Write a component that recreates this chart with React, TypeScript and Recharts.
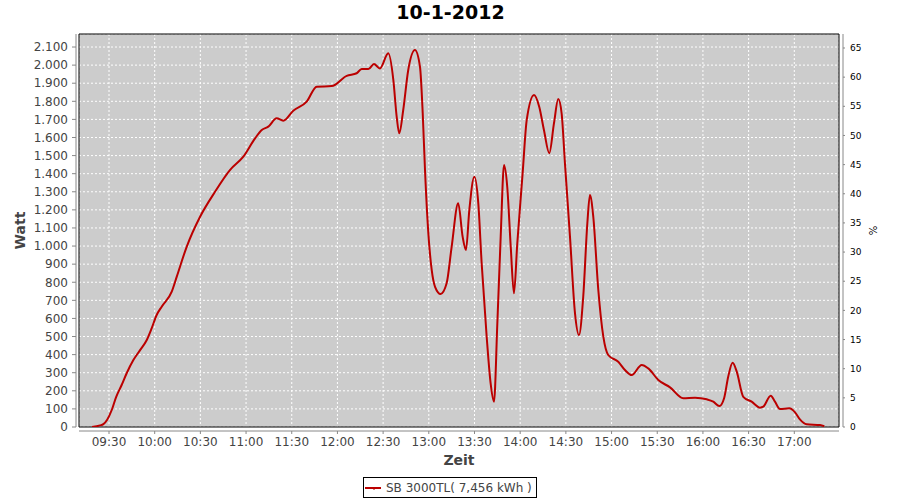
import React from 'react';
import {
  LineChart,
  Line,
  XAxis,
  YAxis,
  CartesianGrid,
  Legend,
  ReferenceArea,
  Label,
} from 'recharts';

// Time of each reading, in minutes since midnight
const times = [
  558.8, 564.1, 566.3, 568.9, 571.8, 574.6, 578.3, 581.6, 586.0, 590.4,
  594.8, 598.0, 601.3, 604.6, 611.2, 614.5, 621.0, 629.8, 639.6, 649.4,
  658.2, 665.9, 670.3, 674.6, 680.1, 684.4, 691.0, 699.8, 706.4, 716.2,
  726.1, 732.6, 735.9, 740.3, 744.0, 747.9, 753.4, 756.7, 758.9, 760.6,
  763.2, 766.5, 770.9, 774.2, 776.0, 777.5, 779.7, 781.9, 784.1, 787.8,
  791.7, 795.0, 799.3, 802.2, 804.4, 806.6, 809.9, 812.5, 814.7, 818.0,
  820.6, 822.8, 825.0, 827.2, 829.4, 831.5, 833.8, 835.9, 838.1, 841.6,
  844.3, 849.1, 852.5, 855.6, 859.1, 862.2, 865.0, 867.2, 869.4, 872.7,
  876.0, 878.6, 881.4, 884.1, 885.8, 888.0, 891.3, 894.6, 897.8, 904.4,
  908.8, 913.2, 919.8, 924.1, 930.7, 938.4, 947.1, 954.8, 962.5, 966.8,
  970.8, 973.9, 976.6, 979.5, 982.2, 986.5, 992.0, 997.5, 999.6, 1004.5,
  1007.3, 1010.6, 1016.7, 1020.5, 1023.7, 1028.1, 1036.9, 1039.7,
];

// SB 3000TL power output in Watt
const watts = [
  0, 9, 16, 42, 94, 164, 232, 297, 370, 425,
  481, 545, 619, 665, 748, 831, 996, 1162, 1300, 1420,
  1494, 1595, 1641, 1660, 1706, 1693, 1748, 1798, 1881, 1884,
  1941, 1955, 1978, 1978, 2006, 1982, 2065, 1918, 1715, 1623,
  1752, 1973, 2083, 1991, 1734, 1420, 1070, 868, 775, 735,
  794, 996, 1236, 1052, 978, 1199, 1383, 1236, 905, 499,
  241, 140, 573, 1052, 1448, 1328, 996, 739, 1015, 1402,
  1697, 1835, 1770, 1641, 1513, 1679, 1813, 1734, 1457, 1052,
  628, 508, 720, 1126, 1282, 1162, 757, 499, 398, 361,
  315, 287, 343, 324, 260, 219, 159, 162, 153, 140,
  116, 159, 278, 355, 306, 167, 140, 107, 112, 173,
  140, 99, 103, 81, 42, 15, 11, 4,
];

const xTicks = [570, 600, 630, 660, 690, 720, 750, 780, 810, 840, 870, 900, 930, 960, 990, 1020];
const wattTicks = [
  0, 100, 200, 300, 400, 500, 600, 700, 800, 900, 1000,
  1100, 1200, 1300, 1400, 1500, 1600, 1700, 1800, 1900, 2000, 2100,
];
const pctTicks = [0, 5, 10, 15, 20, 25, 30, 35, 40, 45, 50, 55, 60, 65];

const title = '10-1-2012';
const seriesName = 'SB 3000TL( 7,456 kWh )';
const xTitle = 'Zeit';
const yLeftTitle = 'Watt';
const yRightTitle = '%';

const X_DOMAIN: [number, number] = [550.3, 1049.35];
const W_DOMAIN: [number, number] = [0, 2172];
const P_DOMAIN: [number, number] = [0, 67.4];

const data = times.map((t, i) => ({ t, w: watts[i] }));

const FONT = '"DejaVu Sans", Verdana, sans-serif';
const RED = '#BB0000';
const AXIS_GRAY = '#888888';

const fmtTime = (m: number) => {
  const h = Math.floor(m / 60);
  const mm = Math.round(m - h * 60);
  return `${String(h).padStart(2, '0')}:${String(mm).padStart(2, '0')}`;
};

const fmtWatt = (n: number) => {
  if (n >= 1000) {
    const k = Math.floor(n / 1000);
    const r = n % 1000;
    return `${k}.${String(r).padStart(3, '0')}`;
  }
  return String(n);
};

const LegendBox = () => (
  <div
    style={{
      boxSizing: 'border-box',
      width: 174,
      height: 21,
      border: '1px solid #000',
      background: '#fff',
      display: 'flex',
      alignItems: 'center',
      fontFamily: FONT,
      fontSize: 12,
      color: '#444',
      whiteSpace: 'nowrap',
    }}
  >
    <svg width={22} height={19} style={{ display: 'block', flex: 'none' }}>
      <line x1={1} y1={10} x2={17} y2={10} stroke={RED} strokeWidth={2} />
      <line x1={10} y1={10} x2={10} y2={12} stroke={RED} strokeWidth={1} />
    </svg>
    <span>{seriesName}</span>
  </div>
);

export default function App() {
  return (
    <div
      style={{
        position: 'absolute',
        left: 0,
        top: 0,
        width: 900,
        height: 500,
        background: '#fff',
        fontFamily: FONT,
      }}
    >
      <div
        style={{
          position: 'absolute',
          left: 0,
          top: 1,
          width: 901,
          textAlign: 'center',
          fontSize: 19,
          fontWeight: 'bold',
          color: '#000',
          lineHeight: 'normal',
          zIndex: 2,
        }}
      >
        {title}
      </div>
      <LineChart
        width={900}
        height={500}
        data={data}
        margin={{ top: 34, right: 0, bottom: 0, left: 0 }}
      >
        <CartesianGrid
          fill="#CCCCCC"
          stroke="#FFFFFF"
          strokeDasharray="2 2"
          strokeWidth={1}
        />
        <XAxis
          dataKey="t"
          type="number"
          domain={X_DOMAIN}
          ticks={xTicks}
          interval={0}
          allowDataOverflow
          tickFormatter={fmtTime}
          height={73}
          tickSize={3}
          tickMargin={7.5}
          axisLine={{ stroke: AXIS_GRAY, transform: 'translate(0,4)' }}
          tickLine={{ stroke: AXIS_GRAY, transform: 'translate(0,4)' }}
          tick={{ fill: '#444', fontSize: 12 }}
        >
          <Label
            value={xTitle}
            position="insideTop"
            offset={28}
            style={{ fontSize: 14, fontWeight: 'bold', fill: '#444', textAnchor: 'middle' }}
          />
        </XAxis>
        <YAxis
          type="number"
          domain={W_DOMAIN}
          ticks={wattTicks}
          interval={0}
          allowDataOverflow
          tickFormatter={fmtWatt}
          width={79}
          tickSize={4}
          tickMargin={7}
          axisLine={{ stroke: AXIS_GRAY, transform: 'translate(-3,0)' }}
          tickLine={{ stroke: AXIS_GRAY, transform: 'translate(-3,0)' }}
          tick={{ fill: '#444', fontSize: 12 }}
        >
          <Label
            value={yLeftTitle}
            position="insideLeft"
            offset={20}
            angle={-90}
            style={{ fontSize: 14, fontWeight: 'bold', fill: '#444', textAnchor: 'middle' }}
          />
        </YAxis>
        <YAxis
          yAxisId="right"
          orientation="right"
          type="number"
          domain={P_DOMAIN}
          ticks={pctTicks}
          interval={0}
          allowDataOverflow
          width={61}
          tickSize={2}
          tickMargin={9}
          axisLine={{ stroke: AXIS_GRAY, transform: 'translate(4,0)' }}
          tickLine={{ stroke: AXIS_GRAY, transform: 'translate(4,0)' }}
          tick={{ fill: '#000', fontSize: 9 }}
        >
          <Label
            value={yRightTitle}
            position="insideRight"
            offset={27}
            angle={-90}
            style={{ fontSize: 10, fill: '#000', textAnchor: 'middle' }}
          />
        </YAxis>
        <Line
          type="monotone"
          dataKey="w"
          name={seriesName}
          stroke={RED}
          strokeWidth={2}
          dot={false}
          activeDot={false}
          isAnimationActive={false}
        />
        <ReferenceArea
          x1={X_DOMAIN[0]}
          x2={X_DOMAIN[1]}
          y1={W_DOMAIN[0]}
          y2={W_DOMAIN[1]}
          fill="none"
          fillOpacity={0}
          stroke="#000"
          strokeWidth={1}
          ifOverflow="visible"
        />
        <Legend
          layout="horizontal"
          verticalAlign="middle"
          align="center"
          wrapperStyle={{ left: 363, top: 477, width: 174, height: 21 }}
          content={LegendBox}
        />
      </LineChart>
    </div>
  );
}
